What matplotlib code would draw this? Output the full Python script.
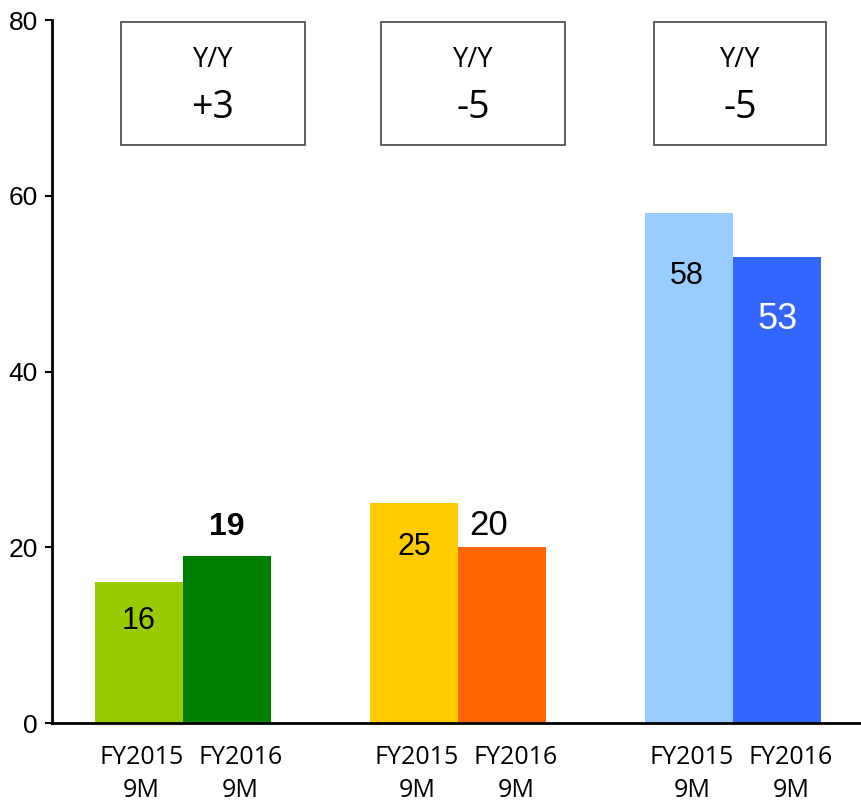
import numpy as np
import matplotlib.pyplot as plt
from matplotlib.patches import Rectangle

# data
groups = ["g1", "g2", "g3"]
fy2015 = [16, 25, 58]
fy2016 = [19, 20, 53]
yoy = ["+3", "-5", "-5"]
xlabels = ["FY2015\n9M", "FY2016\n9M"]
yticks = [0, 20, 40, 60, 80]

c2015 = ["#99CC00", "#FFCC00", "#99CCFF"]
c2016 = ["#008000", "#FF6600", "#3366FF"]

fig = plt.figure(figsize=(8.61, 8.02), dpi=100)
ax = fig.add_axes([0.0604, 0.0985, 0.9396, 0.8765])

w = 0.32
x = np.arange(len(groups))
b1 = ax.bar(x - w / 2, fy2015, w, color=c2015)
b2 = ax.bar(x + w / 2, fy2016, w, color=c2016)

ax.set_xlim(-0.476, 2.465)
ax.set_ylim(0, 80)
ax.set_yticks(yticks)
ax.set_yticklabels([str(v) for v in yticks], fontsize=19, fontfamily="Liberation Sans")
ax.tick_params(axis="y", length=5, width=1.5, pad=5)

# the FY2016 labels sit a little right of their bars
ticks = np.concatenate([x - w / 2 + 0.01, x + w / 2 + 0.05])
labs = [xlabels[0]] * 3 + [xlabels[1]] * 3
ax.set_xticks(ticks)
ax.set_xticklabels(labs, fontsize=18, fontfamily="Open Sans", linespacing=1.4)
ax.tick_params(axis="x", length=0, pad=16)

for s in ["top", "right"]:
    ax.spines[s].set_visible(False)
ax.spines["left"].set_linewidth(2)
ax.spines["bottom"].set_linewidth(2)

# value labels: (dx, dy from value, size, weight, color)
lab15 = [(0, -4.4, 22, "normal", "black"), (0, -5.0, 22, "normal", "black"), (-0.01, -7.1, 22, "normal", "black")]
lab16 = [(0, 3.3, 23, "bold", "black"), (-0.05, 2.5, 25, "normal", "black"), (0, -7.1, 26, "normal", "white")]
for i in range(len(groups)):
    dx, dy, fs, fw, col = lab15[i]
    ax.text(x[i] - w / 2 + dx, fy2015[i] + dy, str(fy2015[i]), ha="center", va="center",
            fontsize=fs, fontweight=fw, color=col, fontfamily="Liberation Sans")
    dx, dy, fs, fw, col = lab16[i]
    ax.text(x[i] + w / 2 + dx, fy2016[i] + dy, str(fy2016[i]), ha="center", va="center",
            fontsize=fs, fontweight=fw, color=col, fontfamily="Liberation Sans")

# Y/Y boxes
boxes = [(-0.225, 0.669), (0.72, 0.669), (1.713, 0.625)]
for i, (bx, bw) in enumerate(boxes):
    ax.add_patch(Rectangle((bx, 65.8), bw, 14.0, fill=False, edgecolor="#444444",
                           linewidth=1.2, clip_on=False))
    cx = bx + bw / 2
    ax.text(cx, 75.4, "Y/Y", ha="center", va="center", fontsize=19.5, fontfamily="Open Sans")
    ax.text(cx, 70.0, yoy[i], ha="center", va="center", fontsize=27, fontfamily="Open Sans")

fig.savefig("out.png", dpi=100)
